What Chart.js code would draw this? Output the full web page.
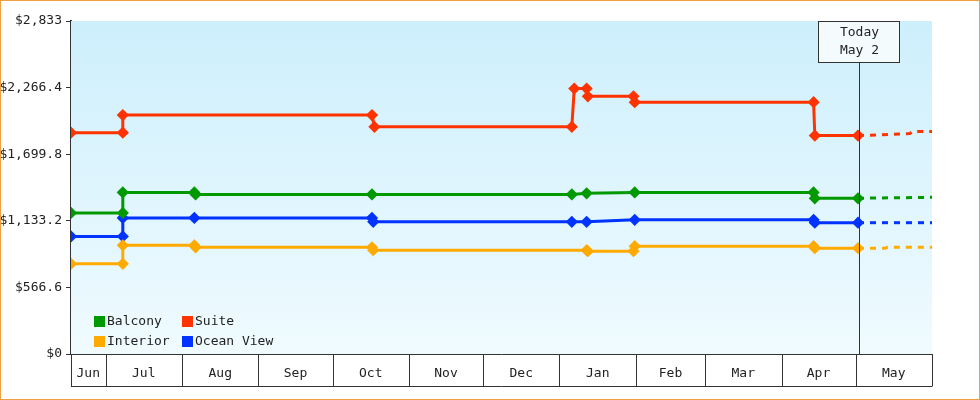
<!DOCTYPE html>
<html><head><meta charset="utf-8">
<script src="https://cdn.jsdelivr.net/npm/chart.js@4"></script>
<style>html,body{margin:0;padding:0;background:#fff}
#w{position:absolute;left:0;top:0;width:978px;height:398px;border:1px solid #f0a040}</style>
</head><body><div id="w"><canvas id="c" width="978" height="398"></canvas></div>
<script>
// x values are days since Jun 17
const monthLabels=['Jun','Jul','Aug','Sep','Oct','Nov','Dec','Jan','Feb','Mar','Apr','May'];
const monthStarts=[0,14,45,76,106,137,167,198,229,257,288,318,349];
const todayDay=319.4;
const balconyX=[0,21,21,50,50.5,122,203,209,228.5,301,301.5,319];
const balconyY=[1200,1200,1375,1375,1358,1358,1358,1367,1375,1375,1325,1325];
const balconyFutX=[319,349];const balconyFutY=[1325,1333];
const suiteX=[0,21,21,122,123,203,204,209,209.5,228,228.5,301,301.5,319];
const suiteY=[1883,1883,2033,2033,1933,1933,2258,2258,2192,2192,2142,2142,1858,1858];
const suiteFutX=[319,340,341,349];const suiteFutY=[1858,1875,1892,1892];
const oceanX=[0,21,21,50,122,122.5,203,209,228.5,301,301.5,319];
const oceanY=[1000,1000,1158,1158,1158,1125,1125,1125,1142,1142,1117,1117];
const oceanFutX=[319,349];const oceanFutY=[1117,1117];
const interiorX=[0,21,21,50,50.5,122,122.5,209,209.5,228,228.5,301,301.5,319];
const interiorY=[767,767,925,925,908,908,883,883,875,875,917,917,900,900];
const interiorFutX=[319,330,331,349];const interiorFutY=[900,900,908,908];
const zip=(a,b)=>a.map((x,i)=>({x:x,y:b[i]}));
const F='"DejaVu Sans Mono", monospace';
function ds(label,color,X,Y,fx,fy){return [
 {label,data:zip(X,Y),borderColor:color,backgroundColor:color,borderWidth:3,pointStyle:'rectRot',pointRadius:4,pointHoverRadius:4},
 {label:label+'_f',data:zip(fx,fy),borderColor:color,backgroundColor:color,borderWidth:3,borderDash:[6,6],pointRadius:0}];}
const sets=[...ds('Balcony','#009900',balconyX,balconyY,balconyFutX,balconyFutY),
 ...ds('Suite','#ff3300',suiteX,suiteY,suiteFutX,suiteFutY),
 ...ds('Interior','#ffaa00',interiorX,interiorY,interiorFutX,interiorFutY),
 ...ds('Ocean View','#0033ff',oceanX,oceanY,oceanFutX,oceanFutY)];
const mids=monthLabels.map((m,i)=>(monthStarts[i]+monthStarts[i+1])/2);
const deco={id:'deco',
 beforeDatasetsDraw(ch){const a=ch.chartArea,c=ch.ctx;const g=c.createLinearGradient(0,a.top,0,a.bottom);
  g.addColorStop(0,'#cdeffc');g.addColorStop(1,'#f0fbff');c.save();c.fillStyle=g;c.fillRect(a.left,a.top,a.right-a.left,a.bottom-a.top);c.restore();},
 afterDraw(ch){const a=ch.chartArea,c=ch.ctx,xs=ch.scales.x;c.save();
  c.strokeStyle='#333';c.lineWidth=1;
  c.beginPath();c.moveTo(a.left,385.5);c.lineTo(a.right,385.5);c.stroke();
  c.beginPath();c.moveTo(a.left,a.bottom+0.5);c.lineTo(a.right,a.bottom+0.5);c.stroke();
  monthStarts.forEach(d=>{const x=Math.round(xs.getPixelForValue(d))+0.5;c.beginPath();c.moveTo(x,a.bottom);c.lineTo(x,385.5);c.stroke();});
  c.fillStyle='#222';c.font='13px '+F;c.textAlign='center';c.textBaseline='middle';
  monthLabels.forEach((m,i)=>c.fillText(m,xs.getPixelForValue(mids[i]),373));
  const tx=Math.round(xs.getPixelForValue(todayDay))+0.5;
  c.strokeStyle='#333';c.beginPath();c.moveTo(tx,62);c.lineTo(tx,a.bottom);c.stroke();
  c.fillStyle='#f4fbfd';c.fillRect(tx-41,20.5,81,41);c.strokeRect(tx-41,20.5,81,41);
  c.fillStyle='#222';c.fillText('Today',tx,32);c.fillText('May 2',tx,50);
  const L=[['Balcony','#009900',93,320],['Suite','#ff3300',181,320],['Interior','#ffaa00',93,340],['Ocean View','#0033ff',181,340]];
  c.textAlign='left';
  L.forEach(([t,col,x,y])=>{c.fillStyle=col;c.fillRect(x,y-5,11,11);c.fillStyle='#222';c.fillText(t,x+13,y+1);});
  c.restore();}};
new Chart(document.getElementById('c'),{type:'line',data:{datasets:sets},plugins:[deco],
 options:{responsive:false,animation:false,layout:{padding:{top:20,right:47,bottom:37,left:0}},
  plugins:{legend:{display:false},tooltip:{enabled:false}},
  scales:{
   x:{type:'linear',min:0,max:349,display:true,grid:{display:false},border:{display:false},ticks:{display:false}},
   y:{min:0,max:2833,afterFit(s){s.width=70;},
    ticks:{stepSize:600,color:'#222',font:{family:F,size:13},padding:4,callback:v=>'$'+v.toLocaleString('en-US')},
    grid:{drawOnChartArea:false,color:'#333',tickLength:5},border:{color:'#333',width:2}}}}});
</script></body></html>
